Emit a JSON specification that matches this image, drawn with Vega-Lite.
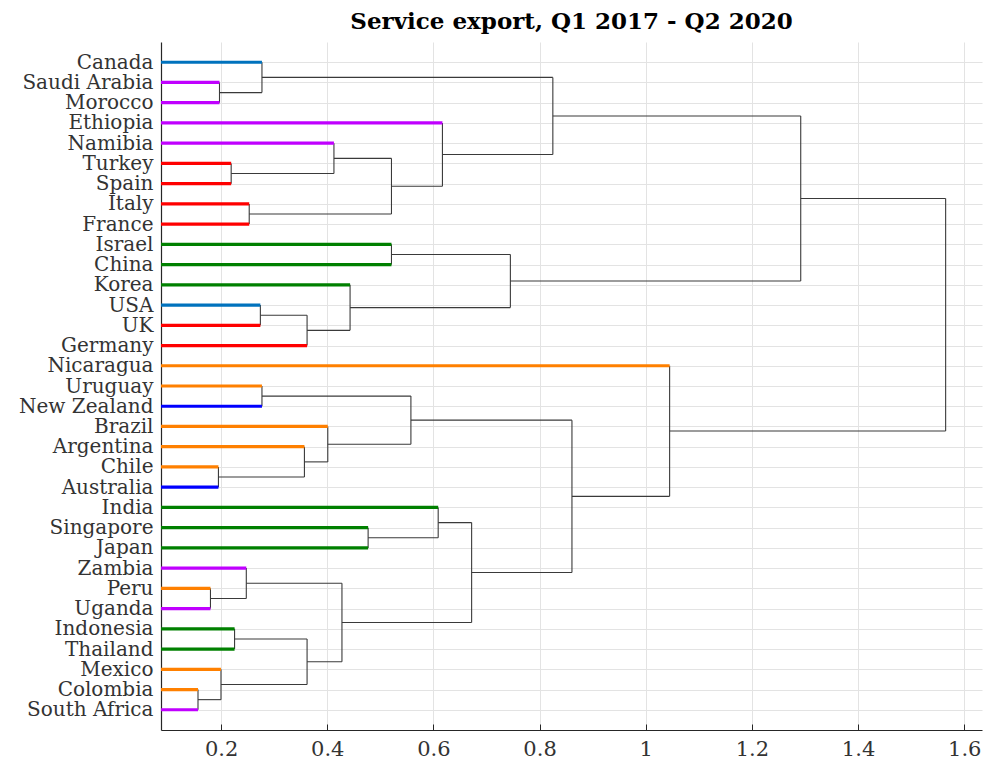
{
  "$schema": "https://vega.github.io/schema/vega-lite/v6.json",
  "width": 821,
  "height": 688,
  "autosize": {"type": "none"},
  "padding": {"left": 161, "top": 42, "right": 1, "bottom": 32},
  "background": "white",
  "title": {"text": "Service export, Q1 2017 - Q2 2020", "font": "DejaVu Serif", "fontWeight": "bold", "fontSize": 23, "color": "#000000", "anchor": "middle", "offset": 8},
  "config": {
    "view": {"stroke": null},
    "axis": {"domainColor": "#262626", "tickColor": "#262626", "gridColor": "#e3e3e3", "labelFont": "DejaVu Serif", "labelColor": "#333333", "titleFont": "DejaVu Serif", "labelOverlap": false}
  },
  "datasets": {
    "leaves": [
      {"name": "Canada", "pos": 1, "leafHeight": 0, "h": 0.277, "grp": "b1"},
      {"name": "Saudi Arabia", "pos": 2, "leafHeight": 0, "h": 0.197, "grp": "pu"},
      {"name": "Morocco", "pos": 3, "leafHeight": 0, "h": 0.197, "grp": "pu"},
      {"name": "Ethiopia", "pos": 4, "leafHeight": 0, "h": 0.617, "grp": "pu"},
      {"name": "Namibia", "pos": 5, "leafHeight": 0, "h": 0.4126, "grp": "pu"},
      {"name": "Turkey", "pos": 6, "leafHeight": 0, "h": 0.219, "grp": "re"},
      {"name": "Spain", "pos": 7, "leafHeight": 0, "h": 0.219, "grp": "re"},
      {"name": "Italy", "pos": 8, "leafHeight": 0, "h": 0.253, "grp": "re"},
      {"name": "France", "pos": 9, "leafHeight": 0, "h": 0.253, "grp": "re"},
      {"name": "Israel", "pos": 10, "leafHeight": 0, "h": 0.521, "grp": "gr"},
      {"name": "China", "pos": 11, "leafHeight": 0, "h": 0.521, "grp": "gr"},
      {"name": "Korea", "pos": 12, "leafHeight": 0, "h": 0.443, "grp": "gr"},
      {"name": "USA", "pos": 13, "leafHeight": 0, "h": 0.274, "grp": "b1"},
      {"name": "UK", "pos": 14, "leafHeight": 0, "h": 0.274, "grp": "re"},
      {"name": "Germany", "pos": 15, "leafHeight": 0, "h": 0.362, "grp": "re"},
      {"name": "Nicaragua", "pos": 16, "leafHeight": 0, "h": 1.045, "grp": "or"},
      {"name": "Uruguay", "pos": 17, "leafHeight": 0, "h": 0.277, "grp": "or"},
      {"name": "New Zealand", "pos": 18, "leafHeight": 0, "h": 0.277, "grp": "b2"},
      {"name": "Brazil", "pos": 19, "leafHeight": 0, "h": 0.401, "grp": "or"},
      {"name": "Argentina", "pos": 20, "leafHeight": 0, "h": 0.357, "grp": "or"},
      {"name": "Chile", "pos": 21, "leafHeight": 0, "h": 0.195, "grp": "or"},
      {"name": "Australia", "pos": 22, "leafHeight": 0, "h": 0.195, "grp": "b2"},
      {"name": "India", "pos": 23, "leafHeight": 0, "h": 0.609, "grp": "gr"},
      {"name": "Singapore", "pos": 24, "leafHeight": 0, "h": 0.477, "grp": "gr"},
      {"name": "Japan", "pos": 25, "leafHeight": 0, "h": 0.477, "grp": "gr"},
      {"name": "Zambia", "pos": 26, "leafHeight": 0, "h": 0.2475, "grp": "pu"},
      {"name": "Peru", "pos": 27, "leafHeight": 0, "h": 0.18, "grp": "or"},
      {"name": "Uganda", "pos": 28, "leafHeight": 0, "h": 0.18, "grp": "pu"},
      {"name": "Indonesia", "pos": 29, "leafHeight": 0, "h": 0.2254, "grp": "gr"},
      {"name": "Thailand", "pos": 30, "leafHeight": 0, "h": 0.2254, "grp": "gr"},
      {"name": "Mexico", "pos": 31, "leafHeight": 0, "h": 0.1998, "grp": "or"},
      {"name": "Colombia", "pos": 32, "leafHeight": 0, "h": 0.1565, "grp": "or"},
      {"name": "South Africa", "pos": 33, "leafHeight": 0, "h": 0.1565, "grp": "pu"}
    ],
    "links": [
      {"x": 0.197, "x2": 0.197, "y": 2, "y2": 3},
      {"x": 0.277, "x2": 0.277, "y": 1, "y2": 2.5},
      {"x": 0.197, "x2": 0.277, "y": 2.5, "y2": 2.5},
      {"x": 0.219, "x2": 0.219, "y": 6, "y2": 7},
      {"x": 0.4126, "x2": 0.4126, "y": 5, "y2": 6.5},
      {"x": 0.219, "x2": 0.4126, "y": 6.5, "y2": 6.5},
      {"x": 0.253, "x2": 0.253, "y": 8, "y2": 9},
      {"x": 0.521, "x2": 0.521, "y": 5.75, "y2": 8.5},
      {"x": 0.4126, "x2": 0.521, "y": 5.75, "y2": 5.75},
      {"x": 0.253, "x2": 0.521, "y": 8.5, "y2": 8.5},
      {"x": 0.617, "x2": 0.617, "y": 4, "y2": 7.125},
      {"x": 0.521, "x2": 0.617, "y": 7.125, "y2": 7.125},
      {"x": 0.825, "x2": 0.825, "y": 1.75, "y2": 5.5625},
      {"x": 0.277, "x2": 0.825, "y": 1.75, "y2": 1.75},
      {"x": 0.617, "x2": 0.825, "y": 5.5625, "y2": 5.5625},
      {"x": 0.521, "x2": 0.521, "y": 10, "y2": 11},
      {"x": 0.274, "x2": 0.274, "y": 13, "y2": 14},
      {"x": 0.362, "x2": 0.362, "y": 13.5, "y2": 15},
      {"x": 0.274, "x2": 0.362, "y": 13.5, "y2": 13.5},
      {"x": 0.443, "x2": 0.443, "y": 12, "y2": 14.25},
      {"x": 0.362, "x2": 0.443, "y": 14.25, "y2": 14.25},
      {"x": 0.745, "x2": 0.745, "y": 10.5, "y2": 13.125},
      {"x": 0.521, "x2": 0.745, "y": 10.5, "y2": 10.5},
      {"x": 0.443, "x2": 0.745, "y": 13.125, "y2": 13.125},
      {"x": 1.292, "x2": 1.292, "y": 3.65625, "y2": 11.8125},
      {"x": 0.825, "x2": 1.292, "y": 3.65625, "y2": 3.65625},
      {"x": 0.745, "x2": 1.292, "y": 11.8125, "y2": 11.8125},
      {"x": 0.277, "x2": 0.277, "y": 17, "y2": 18},
      {"x": 0.195, "x2": 0.195, "y": 21, "y2": 22},
      {"x": 0.357, "x2": 0.357, "y": 20, "y2": 21.5},
      {"x": 0.195, "x2": 0.357, "y": 21.5, "y2": 21.5},
      {"x": 0.401, "x2": 0.401, "y": 19, "y2": 20.75},
      {"x": 0.357, "x2": 0.401, "y": 20.75, "y2": 20.75},
      {"x": 0.5576, "x2": 0.5576, "y": 17.5, "y2": 19.875},
      {"x": 0.277, "x2": 0.5576, "y": 17.5, "y2": 17.5},
      {"x": 0.401, "x2": 0.5576, "y": 19.875, "y2": 19.875},
      {"x": 0.477, "x2": 0.477, "y": 24, "y2": 25},
      {"x": 0.609, "x2": 0.609, "y": 23, "y2": 24.5},
      {"x": 0.477, "x2": 0.609, "y": 24.5, "y2": 24.5},
      {"x": 0.18, "x2": 0.18, "y": 27, "y2": 28},
      {"x": 0.2475, "x2": 0.2475, "y": 26, "y2": 27.5},
      {"x": 0.18, "x2": 0.2475, "y": 27.5, "y2": 27.5},
      {"x": 0.2254, "x2": 0.2254, "y": 29, "y2": 30},
      {"x": 0.1565, "x2": 0.1565, "y": 32, "y2": 33},
      {"x": 0.1998, "x2": 0.1998, "y": 31, "y2": 32.5},
      {"x": 0.1565, "x2": 0.1998, "y": 32.5, "y2": 32.5},
      {"x": 0.362, "x2": 0.362, "y": 29.5, "y2": 31.75},
      {"x": 0.2254, "x2": 0.362, "y": 29.5, "y2": 29.5},
      {"x": 0.1998, "x2": 0.362, "y": 31.75, "y2": 31.75},
      {"x": 0.4277, "x2": 0.4277, "y": 26.75, "y2": 30.625},
      {"x": 0.2475, "x2": 0.4277, "y": 26.75, "y2": 26.75},
      {"x": 0.362, "x2": 0.4277, "y": 30.625, "y2": 30.625},
      {"x": 0.672, "x2": 0.672, "y": 23.75, "y2": 28.6875},
      {"x": 0.609, "x2": 0.672, "y": 23.75, "y2": 23.75},
      {"x": 0.4277, "x2": 0.672, "y": 28.6875, "y2": 28.6875},
      {"x": 0.861, "x2": 0.861, "y": 18.6875, "y2": 26.21875},
      {"x": 0.5576, "x2": 0.861, "y": 18.6875, "y2": 18.6875},
      {"x": 0.672, "x2": 0.861, "y": 26.21875, "y2": 26.21875},
      {"x": 1.045, "x2": 1.045, "y": 16, "y2": 22.453125},
      {"x": 0.861, "x2": 1.045, "y": 22.453125, "y2": 22.453125},
      {"x": 1.565, "x2": 1.565, "y": 7.734375, "y2": 19.2265625},
      {"x": 1.292, "x2": 1.565, "y": 7.734375, "y2": 7.734375},
      {"x": 1.045, "x2": 1.565, "y": 19.2265625, "y2": 19.2265625}
    ]
  },
  "layer": [
    {
      "data": {"name": "links"},
      "mark": {"type": "rule", "color": "#3a3a3a", "strokeWidth": 1.1, "clip": true},
      "encoding": {
        "x": {"field": "x", "type": "quantitative", "scale": {"domain": [0.0868, 1.6335], "nice": false, "zero": false},
          "axis": {"title": null, "values": [0.2, 0.4, 0.6, 0.8, 1, 1.2, 1.4, 1.6], "format": ".2~f", "tickSize": -6, "labelPadding": 14, "labelFontSize": 21, "grid": true, "domainWidth": 1.2}},
        "x2": {"field": "x2"},
        "y": {"field": "y", "type": "quantitative", "scale": {"domain": [0, 34], "reverse": true, "nice": false, "zero": false},
          "axis": {"title": null, "values": [1,2,3,4,5,6,7,8,9,10,11,12,13,14,15,16,17,18,19,20,21,22,23,24,25,26,27,28,29,30,31,32,33],
            "labelExpr": "['Canada','Saudi Arabia','Morocco','Ethiopia','Namibia','Turkey','Spain','Italy','France','Israel','China','Korea','USA','UK','Germany','Nicaragua','Uruguay','New Zealand','Brazil','Argentina','Chile','Australia','India','Singapore','Japan','Zambia','Peru','Uganda','Indonesia','Thailand','Mexico','Colombia','South Africa'][datum.value - 1]",
            "labelOverlap": false, "labelBound": false,
            "tickSize": -5, "labelPadding": 13, "labelFontSize": 20, "grid": true, "domainWidth": 1.2, "labelBaseline": "middle"}},
        "y2": {"field": "y2"}
      }
    },
    {
      "data": {"name": "leaves"},
      "mark": {"type": "rule", "strokeWidth": 3.2, "clip": true},
      "encoding": {
        "x": {"field": "leafHeight", "type": "quantitative",
          "axis": {"title": null, "values": [0.2, 0.4, 0.6, 0.8, 1, 1.2, 1.4, 1.6], "format": ".2~f", "tickSize": -6, "labelPadding": 14, "labelFontSize": 21, "grid": true, "domainWidth": 1.2}},
        "x2": {"field": "h"},
        "y": {"field": "pos", "type": "quantitative",
          "axis": {"title": null, "values": [1,2,3,4,5,6,7,8,9,10,11,12,13,14,15,16,17,18,19,20,21,22,23,24,25,26,27,28,29,30,31,32,33],
            "labelExpr": "['Canada','Saudi Arabia','Morocco','Ethiopia','Namibia','Turkey','Spain','Italy','France','Israel','China','Korea','USA','UK','Germany','Nicaragua','Uruguay','New Zealand','Brazil','Argentina','Chile','Australia','India','Singapore','Japan','Zambia','Peru','Uganda','Indonesia','Thailand','Mexico','Colombia','South Africa'][datum.value - 1]",
            "labelOverlap": false, "labelBound": false,
            "tickSize": -5, "labelPadding": 13, "labelFontSize": 20, "grid": true, "domainWidth": 1.2, "labelBaseline": "middle"}},
        "color": {"field": "grp", "type": "nominal", "legend": null,
          "scale": {"domain": ["b1", "pu", "re", "gr", "or", "b2"], "range": ["#0072BD", "#C000FF", "#FF0000", "#008000", "#FF8000", "#0000FF"]}}
      }
    }
  ]
}
